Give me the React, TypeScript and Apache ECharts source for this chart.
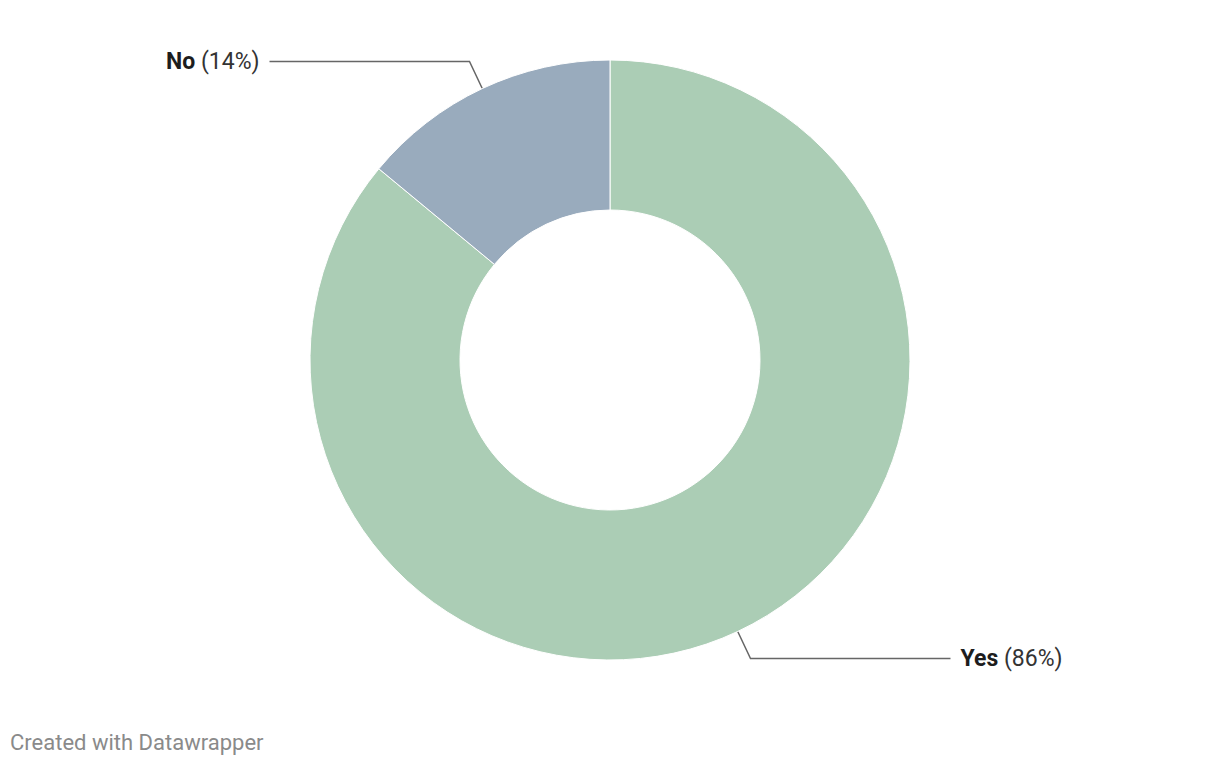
import React, { useEffect, useRef } from "react";
import * as echarts from "echarts";

const categories = ["Yes", "No"];
const values = [86, 14];
const colors = ["#abcdb5", "#99abbd"];

export default function App() {
  const ref = useRef<HTMLDivElement>(null);
  useEffect(() => {
    document.body.style.margin = "0";
    const chart = echarts.init(ref.current!, undefined, { renderer: "svg" });
    chart.setOption({
      animation: false,
      backgroundColor: "#ffffff",
      graphic: [
        {
          type: "text",
          left: 10,
          top: 731,
          style: {
            text: "Created with Datawrapper",
            fill: "#8a8a8a",
            font: "22px Roboto",
          },
        },
      ],
      series: [
        {
          type: "pie",
          center: [610, 360],
          radius: [150, 300],
          startAngle: 90,
          clockwise: true,
          itemStyle: { borderColor: "#ffffff", borderWidth: 1 },
          label: {
            show: true,
            position: "outside",
            distanceToLabelLine: 10,
            formatter: (p: any) => `{b|${p.name}}{n| (${p.value}%)}`,
            rich: {
              b: { fontFamily: "Roboto", fontSize: 23, fontWeight: "bold", color: "#1d1d1d" },
              n: { fontFamily: "Roboto", fontSize: 23, color: "#333333" },
            },
          },
          labelLine: {
            show: true,
            length: 30,
            length2: 200,
            lineStyle: { color: "#666666", width: 1.5 },
          },
          emphasis: { disabled: true },
          data: categories.map((c, i) => ({
            name: c,
            value: values[i],
            itemStyle: { color: colors[i] },
          })),
        },
      ],
    });
    return () => chart.dispose();
  }, []);
  return <div ref={ref} style={{ width: 1220, height: 766 }} />;
}
